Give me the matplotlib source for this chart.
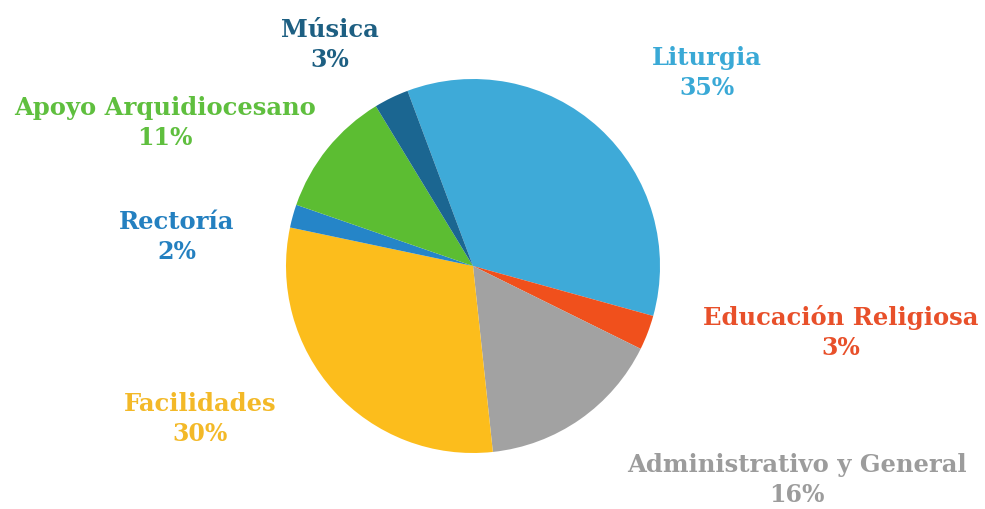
import matplotlib.pyplot as plt

# Example data
categories = ['Liturgia', 'Educación Religiosa', 'Administrativo y General',
              'Facilidades', 'Rectoría', 'Apoyo Arquidiocesano', 'Música']
shares = [35, 3, 16, 30, 2, 11, 3]

slice_colors = ['#3eaad8', '#f0501c', '#a2a2a2', '#fcbd1c', '#2585c8', '#5cbd32', '#1b6691']
text_colors = ['#3aa9d6', '#e8502a', '#9c9c9c', '#f3b928', '#2480c0', '#5fbf3e', '#1d5f82']
# label centres in pixel coords (x, y from top) for the name line
label_pos = [(707, 58), (841, 318), (797, 465), (200, 404), (177, 222), (165, 108), (330, 30)]

W, H = 985, 510
fig = plt.figure(figsize=(W / 100, H / 100), dpi=100)
ax = fig.add_axes([0, 0, 1, 1])

ax.pie(shares, colors=slice_colors, startangle=110.5, counterclock=False,
       center=(473, H - 267), radius=187, frame=True)
ax.set_xlim(0, W)
ax.set_ylim(0, H)
ax.set_aspect('equal')
ax.axis('off')

for name, val, col, (x, y) in zip(categories, shares, text_colors, label_pos):
    ax.text(x, H - y, name, ha='center', va='center', color=col,
            fontsize=17.5, fontweight='bold', family='DejaVu Serif')
    ax.text(x, H - y - 30, f'{val}%', ha='center', va='center', color=col,
            fontsize=17, fontweight='bold', family='DejaVu Serif')

fig.savefig('out.png', dpi=100)
